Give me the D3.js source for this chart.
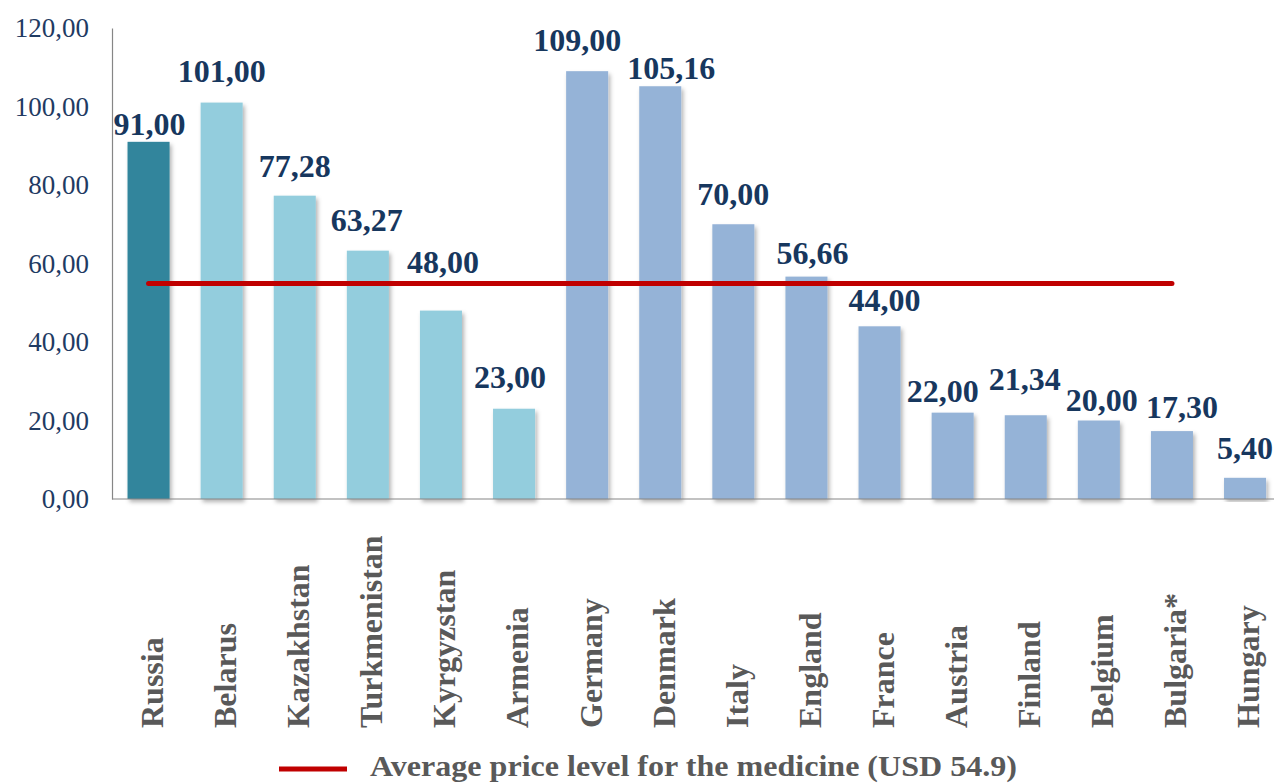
<!DOCTYPE html>
<html>
<head>
<meta charset="utf-8">
<script src="https://cdn.jsdelivr.net/npm/d3@7"></script>
<style>
  html, body { margin: 0; padding: 0; background: #ffffff; }
  svg { display: block; }
</style>
</head>
<body>
<svg id="chart" width="1274" height="783"></svg>
<script>
// Medicine price by country, USD
const countries = ["Russia", "Belarus", "Kazakhstan", "Turkmenistan", "Kyrgyzstan", "Armenia",
  "Germany", "Denmark", "Italy", "England", "France", "Austria", "Finland", "Belgium", "Bulgaria*", "Hungary"];
const prices = [91.00, 101.00, 77.28, 63.27, 48.00, 23.00,
  109.00, 105.16, 70.00, 56.66, 44.00, 22.00, 21.34, 20.00, 17.30, 5.40];
const regions = ["home", "cis", "cis", "cis", "cis", "cis",
  "eu", "eu", "eu", "eu", "eu", "eu", "eu", "eu", "eu", "eu"];
const averagePrice = 54.9;
const averageSpan = ["Russia", "Bulgaria*"];
const yTicks = [0, 20, 40, 60, 80, 100, 120];
const legendText = "Average price level for the medicine (USD 54.9)";

// hand-placed value labels: [horizontal shift, gap above bar]
const labelOffsets = [[1, 7], [0, 21], [0, 19], [-1, 20], [2, 38], [-4, 21],
  [-10, 20], [11, 7], [0, 19], [6, 13], [5, 15], [-10, 11], [-1, 25], [3, 10], [10, 13], [0, 19]];

const regionColor = { home: "#31859C", cis: "#93CDDD", eu: "#95B3D7" };
const navy = "#17375E";
const grey = "#595959";
const avgRed = "#C00000";
const serif = "'Liberation Serif', 'Times New Roman', serif";

const svg = d3.select("#chart");

const defs = svg.append("defs");
const shadow = defs.append("filter").attr("id", "barShadow")
  .attr("x", "-20%").attr("y", "-5%").attr("width", "150%").attr("height", "115%");
shadow.append("feDropShadow").attr("dx", 2).attr("dy", 3).attr("stdDeviation", 2)
  .attr("flood-color", "#000").attr("flood-opacity", 0.3);

const x = d3.scaleBand()
  .domain(countries)
  .range([112, 1281.6])
  .paddingInner(0.425)
  .paddingOuter(0.2125);

const y = d3.scaleLinear().domain([0, 120]).range([499, 28]);

// bars
svg.append("g").selectAll("rect")
  .data(countries)
  .join("rect")
  .attr("x", d => x(d))
  .attr("y", (d, i) => y(prices[i]))
  .attr("width", x.bandwidth())
  .attr("height", (d, i) => y(0) - y(prices[i]))
  .attr("fill", (d, i) => regionColor[regions[i]])
  .attr("filter", "url(#barShadow)");

// axes
const yAxis = d3.axisLeft(y).tickValues(yTicks).tickSize(0).tickPadding(23)
  .tickFormat(d => d3.format(".2f")(d).replace(".", ","));
const gy = svg.append("g").attr("transform", "translate(112,0)").call(yAxis);
gy.select(".domain").attr("stroke", "#868686").attr("stroke-width", 1.2);
gy.selectAll("text")
  .attr("font-family", serif).attr("font-size", 27).attr("fill", "#1F3B63")
  .attr("dy", "0.33em");

svg.append("line")
  .attr("x1", 112).attr("x2", 1274)
  .attr("y1", y(0)).attr("y2", y(0))
  .attr("stroke", "#868686").attr("stroke-width", 1.2);

// category names, rotated
svg.append("g").selectAll("text")
  .data(countries)
  .join("text")
  .attr("transform", d => `translate(${x(d) + x.bandwidth() / 2},728) rotate(-90)`)
  .attr("dy", "0.45em")
  .attr("text-anchor", "start")
  .attr("font-family", serif).attr("font-weight", "bold").attr("font-size", 32)
  .attr("fill", grey)
  .text(d => d);

// average price line
svg.append("line")
  .attr("x1", x(averageSpan[0]) + x.bandwidth() / 2)
  .attr("x2", x(averageSpan[1]) + x.bandwidth() / 2)
  .attr("y1", y(averagePrice)).attr("y2", y(averagePrice))
  .attr("stroke", avgRed).attr("stroke-width", 5).attr("stroke-linecap", "round");

// value labels
svg.append("g").selectAll("text")
  .data(countries)
  .join("text")
  .attr("x", (d, i) => x(d) + x.bandwidth() / 2 + labelOffsets[i][0])
  .attr("y", (d, i) => y(prices[i]) - labelOffsets[i][1])
  .attr("text-anchor", "middle")
  .attr("font-family", serif).attr("font-weight", "bold").attr("font-size", 32)
  .attr("fill", navy)
  .text((d, i) => d3.format(".2f")(prices[i]).replace(".", ","));

// legend
const legend = svg.append("g");
legend.append("line")
  .attr("x1", 279).attr("x2", 347).attr("y1", 769).attr("y2", 769)
  .attr("stroke", avgRed).attr("stroke-width", 5);
legend.append("text")
  .attr("x", 370).attr("y", 776)
  .attr("font-family", serif).attr("font-weight", "bold").attr("font-size", 29)
  .attr("fill", grey)
  .attr("textLength", 647).attr("lengthAdjust", "spacingAndGlyphs")
  .text(legendText);
</script>
</body>
</html>
